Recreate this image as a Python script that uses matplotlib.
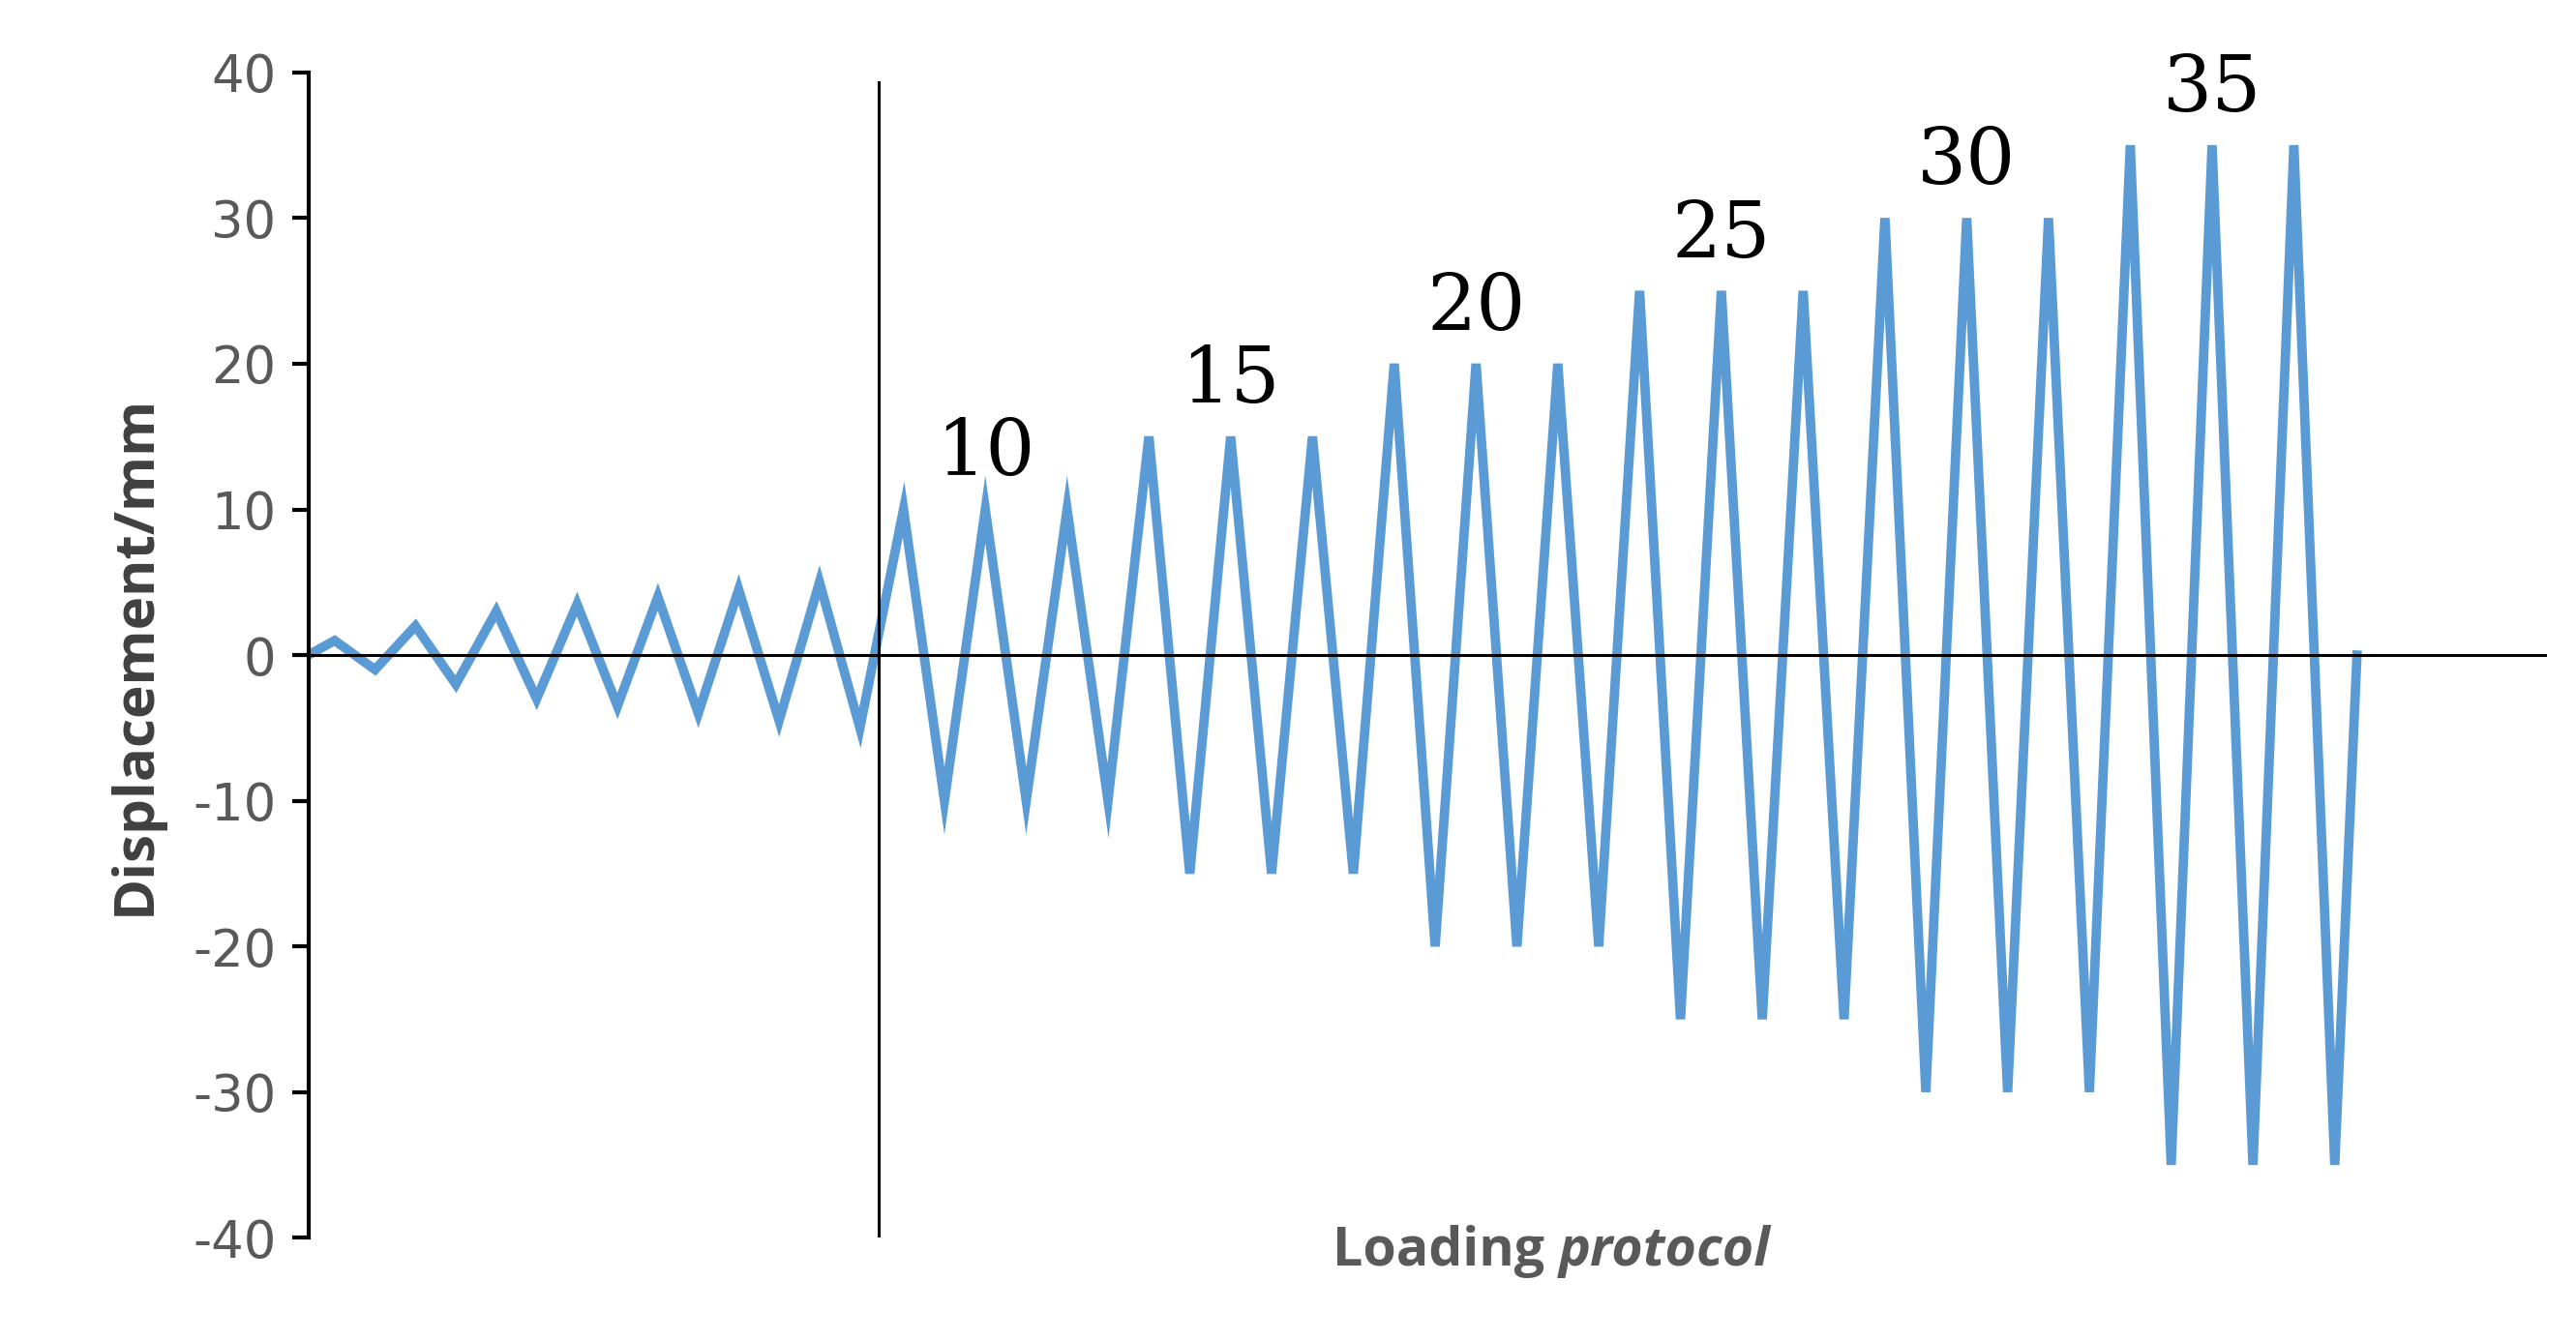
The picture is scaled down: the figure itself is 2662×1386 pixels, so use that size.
import matplotlib
matplotlib.use("Agg")
import matplotlib.pyplot as plt
import numpy as np

plt.rcParams["axes.unicode_minus"] = False

# Data
pre_amps = [1, 2, 3, 3.5, 4, 4.5, 5]          # pre-yield cycles (one each)
main_amps = [10, 15, 20, 25, 30, 35]          # three cycles each
cycles_per_level = 3
labels = ["10", "15", "20", "25", "30", "35"]

# Build signal
y = [0.0]
for a in pre_amps:
    y += [a, -a]
n_pre = len(y)
for a in main_amps:
    for _ in range(cycles_per_level):
        y += [a, -a]
y += [0.0]
y = np.array(y)

pre_step, main_step = 1.0, 1.012
x = [0.0]
for k in range(1, n_pre):
    x.append(0.65 + (k - 1) * pre_step)
for k in range(n_pre, len(y) - 1):
    x.append(14.73 + (k - n_pre) * main_step)
x.append(x[-1] + 0.55)
x = np.array(x)

fig = plt.figure(figsize=(26.62, 13.86), dpi=100)
ax = fig.add_axes([0.1197, 0.077, 0.869, 0.869])
ax.plot(x, y, color="#5b9bd5", lw=7, solid_joinstyle="miter")
ax.set_xlim(0, 55.4)
ax.set_ylim(-40, 40)
ax.set_yticks(range(-40, 41, 10))
ax.set_xticks([])
for s in ["top", "right", "bottom"]:
    ax.spines[s].set_visible(False)
ax.spines["left"].set_linewidth(3)
ax.axhline(0, color="black", lw=2.2)
ax.plot([14.12, 14.12], [-40, 39.3], color="black", lw=2.2)
ax.tick_params(axis="y", labelsize=38, labelcolor="#595959", length=12, width=3, direction="out", pad=12)

# labels at middle peak of each level
for i, lab in enumerate(labels):
    idx = n_pre + i * 2 * cycles_per_level + 2
    ax.text(x[idx], main_amps[i] + 1.2, lab, ha="center", va="bottom",
            fontsize=58, family="DejaVu Serif", color="black")

ax.set_ylabel("Displacement/mm", fontsize=42, fontweight="bold", color="#404040", labelpad=22,
              family="Open Sans")
fig.text(0.605, 0.067, "Loading ", ha="right", va="center", fontsize=40, fontweight="bold",
         color="#595959", family="Open Sans")
fig.text(0.605, 0.067, "protocol", ha="left", va="center", fontsize=40, fontweight="bold",
         style="italic", color="#595959", family="Open Sans")
fig.savefig("out.png", dpi=100)
